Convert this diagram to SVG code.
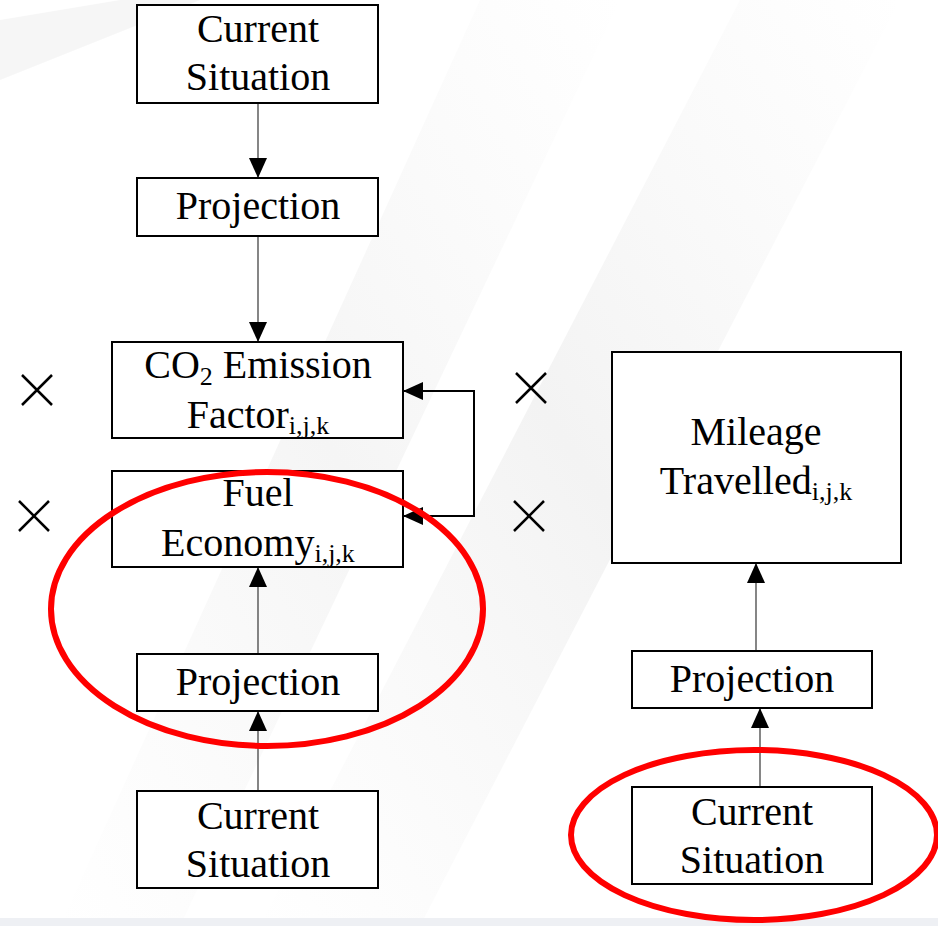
<svg xmlns="http://www.w3.org/2000/svg" width="938" height="926" viewBox="0 0 938 926">
<defs>
<marker id="ah" viewBox="0 0 20 18" refX="20" refY="9" markerWidth="20" markerHeight="18" markerUnits="userSpaceOnUse" orient="auto-start-reverse">
<path d="M0,0 L20,9 L0,18 Z" fill="#000"/>
</marker>
<linearGradient id="st" x1="0" y1="1" x2="1" y2="0">
<stop offset="0" stop-color="#ebebeb" stop-opacity="0"/>
<stop offset="0.5" stop-color="#e6e6e6" stop-opacity="0.8"/>
<stop offset="1" stop-color="#ebebeb" stop-opacity="0"/>
</linearGradient>
</defs>
<style>
.box{fill:#fff;stroke:#000;stroke-width:2}
.t{font-family:'Liberation Serif',Tinos,'Times New Roman','DejaVu Serif',serif;font-size:40px;fill:#000;text-anchor:middle}
.sub{font-size:26px}
.ln{stroke:#444;stroke-width:1.3;fill:none}
.x{stroke:#000;stroke-width:2.5;fill:none}
.ell{fill:none;stroke:#f00;stroke-width:6}
</style>
<rect width="938" height="926" fill="#fff"/>
<g id="background">
<polygon points="60,926 180,926 620,0 480,0" fill="url(#st)" opacity="0.5"/>
<polygon points="260,926 420,926 900,0 740,0" fill="url(#st)" opacity="0.6"/>
<polygon points="0,80 0,20 120,0 200,0" fill="#f0f0f0" opacity="0.6"/>
<rect x="0" y="918" width="938" height="8" fill="#eef0f4"/>
</g>
<g id="connectors">
<line class="ln" x1="258" y1="103" x2="258" y2="178" marker-end="url(#ah)"/>
<line class="ln" x1="258" y1="236" x2="258" y2="342" marker-end="url(#ah)"/>
<line class="ln" x1="258" y1="654" x2="258" y2="567" marker-end="url(#ah)"/>
<line class="ln" x1="258" y1="791" x2="258" y2="711" marker-end="url(#ah)"/>
<polyline class="ln" points="403,391 474,391 474,516 403,516" marker-start="url(#ah)" marker-end="url(#ah)" style="stroke:#000;stroke-width:2"/>
<line class="ln" x1="756" y1="651" x2="756" y2="563" marker-end="url(#ah)"/>
<line class="ln" x1="760" y1="787" x2="760" y2="708" marker-end="url(#ah)"/>
</g>
<g id="n-current1"><rect class="box" x="137" y="5" width="241" height="98"/>
<text class="t" x="258" y="42">Current</text><text class="t" x="258" y="90">Situation</text></g>
<g id="n-projection1"><rect class="box" x="137" y="178" width="241" height="58"/>
<text class="t" x="258" y="219">Projection</text></g>
<g id="n-co2"><rect class="box" x="112" y="342" width="291" height="96"/>
<text class="t" x="258" y="378">CO<tspan class="sub" dy="7">2</tspan><tspan dy="-7"> Emission</tspan></text>
<text class="t" x="258" y="428">Factor<tspan class="sub" dy="6">i,j,k</tspan></text></g>
<g id="n-fuel"><rect class="box" x="112" y="471" width="291" height="96"/>
<text class="t" x="258" y="506">Fuel</text>
<text class="t" x="258" y="556">Economy<tspan class="sub" dy="6">i,j,k</tspan></text></g>
<g id="n-projection2"><rect class="box" x="137" y="654" width="241" height="57"/>
<text class="t" x="258" y="695">Projection</text></g>
<g id="n-current2"><rect class="box" x="137" y="791" width="241" height="97"/>
<text class="t" x="258" y="829">Current</text><text class="t" x="258" y="877">Situation</text></g>
<g id="n-mileage"><rect class="box" x="612" y="352" width="289" height="211"/>
<text class="t" x="756" y="445">Mileage</text>
<text class="t" x="756" y="494">Travelled<tspan class="sub" dy="6">i,j,k</tspan></text></g>
<g id="n-projection3"><rect class="box" x="632" y="651" width="240" height="57"/>
<text class="t" x="752" y="692">Projection</text></g>
<g id="n-current3"><rect class="box" x="632" y="787" width="240" height="97"/>
<text class="t" x="752" y="825">Current</text><text class="t" x="752" y="873">Situation</text></g>
<g id="times">
<path class="x" d="M22,375 L52,405 M52,375 L22,405"/>
<path class="x" d="M19,501 L49,531 M49,501 L19,531"/>
<path class="x" d="M516,373 L546,403 M546,373 L516,403"/>
<path class="x" d="M514,501 L544,531 M544,501 L514,531"/>
</g>
<g id="highlights">
<ellipse class="ell" cx="267" cy="609" rx="216" ry="137"/>
<ellipse class="ell" cx="754" cy="835" rx="183" ry="85"/>
</g>
</svg>
